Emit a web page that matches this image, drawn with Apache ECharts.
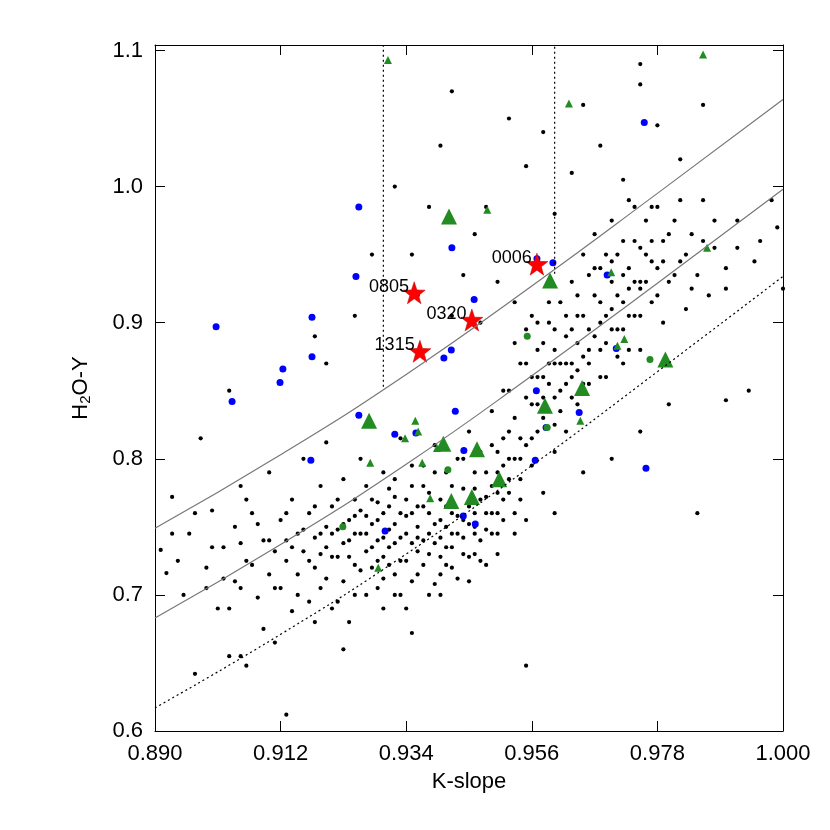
<!DOCTYPE html>
<html><head><meta charset="utf-8">
<script src="https://cdn.jsdelivr.net/npm/echarts@6/dist/echarts.min.js"></script>
<style>html,body{margin:0;background:#fff}#c{width:830px;height:830px}</style>
</head><body><div id="c"></div>
<script>
const xTicks=[0.890,0.912,0.934,0.956,0.978,1.000];
const yTicks=[0.6,0.7,0.8,0.9,1.0,1.1];
const blackPts=[[0.891,0.733],[0.892,0.716],[0.893,0.772],[0.895,0.700],[0.896,0.745],[0.897,0.642],[0.898,0.815],[0.899,0.720],[0.900,0.762],[0.901,0.690],[0.902,0.735],[0.903,0.655],[0.904,0.710],[0.905,0.780],[0.906,0.725],[0.906,0.648],[0.907,0.760],[0.908,0.698],[0.909,0.740],[0.909,0.675],[0.910,0.715],[0.910,0.790],[0.911,0.732],[0.911,0.665],[0.912,0.755],[0.912,0.705],[0.913,0.740],[0.913,0.725],[0.914,0.688],[0.914,0.770],[0.915,0.745],[0.915,0.715],[0.916,0.800],[0.916,0.732],[0.917,0.760],[0.917,0.695],[0.918,0.742],[0.918,0.720],[0.919,0.780],[0.919,0.705],[0.920,0.750],[0.920,0.735],[0.920,0.812],[0.921,0.690],[0.921,0.765],[0.922,0.728],[0.922,0.748],[0.923,0.710],[0.923,0.785],[0.924,0.740],[0.924,0.680],[0.925,0.758],[0.925,0.722],[0.926,0.745],[0.926,0.800],[0.927,0.732],[0.927,0.700],[0.928,0.770],[0.928,0.752],[0.929,0.725],[0.929,0.740],[0.930,0.790],[0.930,0.712],[0.930,0.760],[0.931,0.735],[0.931,0.748],[0.932,0.700],[0.932,0.772],[0.933,0.742],[0.933,0.725],[0.933,0.815],[0.934,0.758],[0.934,0.690],[0.935,0.780],[0.935,0.738],[0.936,0.750],[0.936,0.715],[0.937,0.795],[0.937,0.765],[0.938,0.730],[0.938,0.745],[0.939,0.810],[0.939,0.708],[0.940,0.770],[0.940,0.755],[0.941,0.735],[0.941,0.790],[0.942,0.720],[0.942,0.760],[0.943,0.800],[0.943,0.745],[0.944,0.778],[0.944,0.730],[0.945,0.820],[0.945,0.765],[0.946,0.750],[0.946,0.790],[0.947,0.740],[0.947,0.805],[0.948,0.772],[0.948,0.722],[0.949,0.835],[0.949,0.760],[0.950,0.790],[0.950,0.745],[0.951,0.815],[0.951,0.770],[0.952,0.850],[0.952,0.800],[0.953,0.760],[0.953,0.830],[0.954,0.785],[0.954,0.870],[0.955,0.810],[0.955,0.755],[0.956,0.840],[0.956,0.795],[0.957,0.880],[0.957,0.820],[0.958,0.860],[0.958,0.775],[0.959,0.900],[0.959,0.835],[0.960,0.805],[0.960,0.870],[0.961,0.850],[0.961,0.915],[0.962,0.820],[0.962,0.890],[0.963,0.860],[0.963,0.930],[0.964,0.840],[0.964,0.905],[0.965,0.875],[0.965,0.950],[0.966,0.895],[0.966,0.855],[0.967,0.920],[0.967,0.965],[0.968,0.880],[0.968,0.940],[0.969,0.905],[0.969,0.860],[0.970,0.930],[0.970,0.975],[0.971,0.895],[0.971,0.950],[0.972,0.915],[0.972,0.870],[0.973,0.940],[0.973,0.990],[0.974,0.905],[0.974,0.960],[0.975,0.925],[0.975,0.880],[0.976,0.950],[0.977,0.985],[0.977,0.915],[0.978,0.940],[0.979,0.960],[0.979,0.900],[0.980,0.930],[0.981,0.975],[0.982,0.945],[0.983,0.910],[0.984,0.965],[0.985,0.935],[0.986,0.990],[0.987,0.920],[0.988,0.955],[0.990,0.940],[0.992,0.975],[0.994,0.850],[0.996,0.960],[0.999,0.970],[1.000,0.925],
[0.903,0.850],[0.918,0.890],[0.920,0.870],[0.925,0.905],[0.928,0.950],[0.932,1.000],[0.935,0.950],[0.938,0.985],[0.940,1.030],[0.944,0.935],[0.946,0.965],[0.948,0.985],[0.952,1.050],[0.955,1.015],[0.958,1.040],[0.960,0.980],[0.963,1.010],[0.965,1.060],[0.968,1.030],[0.972,1.005],[0.975,1.075],[0.978,1.045],[0.982,1.020],[0.986,1.060],[0.975,1.090],[0.942,1.070],[0.936,0.920],[0.942,0.905],[0.947,0.900],[0.950,0.930],[0.953,0.915],
[0.905,0.655],[0.913,0.612],[0.918,0.680],[0.923,0.660],[0.930,0.690],[0.935,0.672],[0.940,0.700],[0.945,0.710],[0.950,0.730],[0.955,0.648],[0.960,0.760],[0.965,0.790],[0.970,0.800],[0.975,0.820],[0.980,0.840],[0.985,0.760],[0.990,0.843],[0.980,0.870],
[0.919,0.730],[0.921,0.745],[0.923,0.738],[0.925,0.770],[0.927,0.758],[0.929,0.768],[0.931,0.722],[0.932,0.752],[0.934,0.770],[0.936,0.732],[0.937,0.740],[0.939,0.752],[0.940,0.728],[0.942,0.745],[0.944,0.755],[0.946,0.730],[0.948,0.748],[0.950,0.760],[0.938,0.775],[0.935,0.760],[0.928,0.735],[0.926,0.718],[0.924,0.755],[0.932,0.785],[0.941,0.765],[0.946,0.778],[0.952,0.775],[0.954,0.800],[0.956,0.815],[0.958,0.830],[0.960,0.845],[0.962,0.855],[0.957,0.860],[0.955,0.870],[0.953,0.885],[0.960,0.895],[0.963,0.870],[0.966,0.880],[0.968,0.900],[0.970,0.910],[0.972,0.895],[0.975,0.930],[0.977,0.945],[0.973,0.925],[0.964,0.885],[0.959,0.870],[0.951,0.850],[0.949,0.810],
[0.905,0.738],[0.907,0.722],[0.908,0.752],[0.910,0.740],[0.911,0.705],[0.913,0.760],[0.914,0.735],[0.915,0.700],[0.916,0.748],[0.917,0.725],[0.918,0.765],[0.919,0.745],[0.920,0.712],[0.921,0.728],[0.922,0.770],[0.922,0.695],[0.923,0.752],[0.924,0.728],[0.925,0.745],[0.925,0.700],[0.926,0.762],[0.927,0.745],[0.927,0.780],[0.928,0.720],[0.929,0.755],[0.929,0.705],[0.930,0.742],[0.930,0.728],[0.931,0.765],[0.931,0.778],[0.932,0.738],[0.932,0.715],[0.933,0.760],[0.933,0.700],[0.934,0.745],[0.934,0.725],[0.935,0.795],[0.935,0.710],[0.936,0.765],[0.936,0.742],[0.937,0.722],[0.937,0.780],[0.938,0.760],[0.938,0.700],[0.939,0.738],[0.939,0.790],[0.940,0.742],[0.940,0.715],[0.941,0.750],[0.941,0.722],[0.942,0.780],[0.942,0.735],[0.943,0.758],[0.943,0.712],[0.944,0.742],[0.944,0.800],[0.945,0.752],[0.945,0.728],[0.946,0.760],[0.946,0.745],[0.947,0.770],[0.947,0.725],[0.948,0.790],[0.948,0.760],[0.949,0.745],[0.949,0.780],[0.950,0.775],[0.950,0.805],[0.951,0.755],[0.951,0.795],[0.952,0.785],[0.952,0.820],[0.953,0.800],[0.953,0.745],[0.954,0.815],[0.954,0.770],
[0.955,0.845],[0.955,0.895],[0.956,0.860],[0.956,0.905],[0.957,0.840],[0.957,0.900],[0.958,0.885],[0.958,0.845],[0.959,0.855],[0.959,0.915],[0.960,0.880],[0.960,0.825],[0.961,0.870],[0.961,0.835],[0.962,0.905],[0.962,0.870],[0.963,0.845],[0.963,0.895],[0.964,0.920],[0.964,0.865],[0.965,0.905],[0.965,0.855],[0.966,0.935],[0.966,0.870],[0.967,0.890],[0.967,0.940],[0.968,0.860],[0.968,0.915],[0.969,0.950],[0.969,0.885],[0.970,0.895],[0.970,0.945],[0.971,0.920],[0.971,0.875],[0.972,0.960],[0.972,0.935],[0.973,0.905],[0.973,0.880],[0.974,0.930],[0.974,0.985],[0.975,0.955],[0.975,0.905],[0.976,0.930],[0.976,0.975],[0.977,0.960],[0.978,0.920],[0.978,0.985],[0.979,0.945],[0.980,0.965],[0.981,0.935],[0.982,0.990],[0.983,0.950],[0.984,0.925],[0.986,0.960],[0.988,0.975],[0.990,0.925],[0.992,0.955],[0.995,0.945],[0.998,0.990],
[0.893,0.745],[0.894,0.725],[0.897,0.760],[0.899,0.705],[0.900,0.735],[0.902,0.712],[0.903,0.690],[0.904,0.750],[0.905,0.705],[0.906,0.770]];
const bluePts=[[0.9007,0.897],[0.9035,0.842],[0.9124,0.866],[0.9119,0.856],[0.9175,0.904],[0.9175,0.875],[0.9173,0.799],[0.9257,0.985],[0.9252,0.934],[0.9257,0.832],[0.9303,0.747],[0.9320,0.818],[0.9357,0.819],[0.9420,0.955],[0.9419,0.880],[0.9406,0.874],[0.9426,0.835],[0.9459,0.917],[0.9441,0.806],[0.9440,0.758],[0.9461,0.752],[0.9569,0.947],[0.9597,0.944],[0.9568,0.850],[0.9566,0.799],[0.9585,0.823],[0.9643,0.834],[0.9692,0.935],[0.9708,0.881],[0.9757,1.047],[0.9760,0.793]];
const greenBigTri=[[0.9415,0.978],[0.9275,0.828],[0.9405,0.811],[0.9419,0.769],[0.9464,0.807],[0.9455,0.772],[0.9503,0.785],[0.9583,0.839],[0.9592,0.931],[0.9648,0.852],[0.9794,0.873]];
const greenSmallTri=[[0.9308,1.093],[0.9482,0.983],[0.9625,1.061],[0.9860,1.097],[0.9867,0.955],[0.9699,0.937],[0.9710,0.883],[0.9722,0.888],[0.9645,0.828],[0.9356,0.828],[0.9361,0.820],[0.9338,0.815],[0.9277,0.797],[0.9291,0.720],[0.9382,0.771],[0.9368,0.797],[0.9394,0.808]];
const greenCircles=[[0.9229,0.750],[0.9413,0.792],[0.9552,0.890],[0.9587,0.823],[0.9767,0.873]];
const stars=[['0006',0.9569,0.943],['0805',0.9354,0.922],['0320',0.9455,0.902],['1315',0.9364,0.879]];
const curveX=[0.890,0.912,0.934,0.956,0.978,1.000];
const upperY=[0.749,0.803,0.862,0.927,0.995,1.064];
const middleY=[0.683,0.737,0.796,0.861,0.929,0.998];
const lowerY=[0.617,0.671,0.730,0.795,0.864,0.934];
const vlines=[[[0.930,0.853],[0.930,1.104]],[[0.960,0.936],[0.960,1.104]]];

const zip=(xs,ys)=>xs.map((x,i)=>[x,ys[i]]);
const F='Liberation Sans, Arial, sans-serif';
const baseX={type:'value',min:0.89,max:1.0,splitLine:{show:false},
  axisLine:{lineStyle:{color:'#000',width:1}},
  axisTick:{inside:true,length:10,lineStyle:{color:'#000'},customValues:xTicks},
  axisLabel:{customValues:xTicks,formatter:v=>v.toFixed(3),fontSize:22,color:'#000',fontFamily:F,margin:12}};
const baseY={type:'value',min:0.6,max:1.104,splitLine:{show:false},
  axisLine:{lineStyle:{color:'#000',width:1}},
  axisTick:{inside:true,length:10,lineStyle:{color:'#000'},customValues:yTicks},
  axisLabel:{customValues:yTicks,formatter:v=>v.toFixed(1),fontSize:22,color:'#000',fontFamily:F,margin:12}};
const chart=echarts.init(document.getElementById('c'));
const series=[
 {type:'line',data:zip(curveX,upperY),smooth:true,showSymbol:false,lineStyle:{color:'#777',width:1.2},silent:true},
 {type:'line',data:zip(curveX,middleY),smooth:true,showSymbol:false,lineStyle:{color:'#777',width:1.2},silent:true},
 {type:'line',data:zip(curveX,lowerY),smooth:true,showSymbol:false,lineStyle:{color:'#000',width:1.2,type:[2,3]},silent:true},
 ...vlines.map(v=>({type:'line',data:v,showSymbol:false,lineStyle:{color:'#000',width:1.2,type:[2,3]},silent:true})),
 {type:'scatter',data:blackPts,symbolSize:4.2,itemStyle:{color:'#000',opacity:1}},
 {type:'scatter',data:bluePts,symbolSize:7,itemStyle:{color:'#0000ff',opacity:1}},
 {type:'scatter',data:greenCircles,symbolSize:7,itemStyle:{color:'#228b22',opacity:1}},
 {type:'scatter',data:greenSmallTri,symbol:'triangle',symbolSize:8,itemStyle:{color:'#228b22',opacity:1}},
 {type:'scatter',data:greenBigTri,symbol:'triangle',symbolSize:16,itemStyle:{color:'#228b22',opacity:1}},
 {type:'scatter',data:stars.map(s=>({name:s[0],value:[s[1],s[2]]})),symbol:'path://M0,-10L2.35,-3.24L9.51,-3.09L3.8,1.24L5.88,8.09L0,4L-5.88,8.09L-3.8,1.24L-9.51,-3.09L-2.35,-3.24Z',symbolSize:22,
  itemStyle:{color:'#ff0000',borderColor:'#b00',borderWidth:0.5,opacity:1},
  label:{show:true,formatter:'{b}',position:'left',distance:-6,offset:[0,-6],fontSize:18,color:'#000',fontFamily:F}}
];
chart.setOption({animation:false,backgroundColor:'#fff',
 grid:{left:155,right:47,top:45,bottom:99},
 xAxis:[Object.assign({},baseX,{name:'K-slope',nameLocation:'middle',nameGap:40,nameTextStyle:{fontSize:22,color:'#000',fontFamily:F}}),
        Object.assign({},baseX,{position:'top',axisLabel:{show:false}})],
 yAxis:[Object.assign({},baseY,{name:'{a|H}{s|2}{a|O-Y}',nameLocation:'middle',nameGap:62,nameRotate:90,
   nameTextStyle:{rich:{a:{fontSize:22,color:'#000',fontFamily:F},s:{fontSize:15,color:'#000',fontFamily:F,padding:[10,0,0,0]}}}}),
        Object.assign({},baseY,{position:'right',axisLabel:{show:false}})],
 series
});
</script></body></html>
